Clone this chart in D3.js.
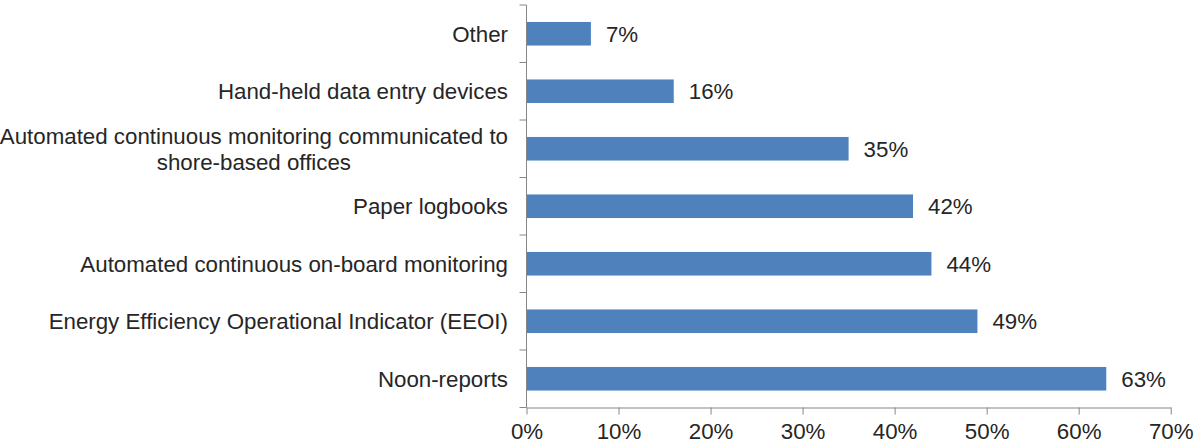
<!DOCTYPE html>
<html>
<head>
<meta charset="utf-8">
<script src="https://cdn.jsdelivr.net/npm/d3@7"></script>
<style>
  html, body { margin: 0; padding: 0; background: #ffffff; }
  svg text { font-family: "Liberation Sans", Arial, sans-serif; fill: #262626; }
</style>
</head>
<body>
<svg id="chart" width="1197" height="445"></svg>
<script>
// Methods used to collect ship performance data, share of respondents
const categories = [
  "Other",
  "Hand-held data entry devices",
  "Automated continuous monitoring communicated to shore-based offices",
  "Paper logbooks",
  "Automated continuous on-board monitoring",
  "Energy Efficiency Operational Indicator (EEOI)",
  "Noon-reports"
];
const shares = [0.07, 0.16, 0.35, 0.42, 0.44, 0.49, 0.63];
const tickValues = [0, 0.1, 0.2, 0.3, 0.4, 0.5, 0.6, 0.7];

const svg = d3.select("#chart");
const plot = { left: 526.5, right: 1170.7, top: 5, bottom: 407.5 };
const axisColor = "#868686";
const barColor = "#4f81bd";
const fontSize = 22.3;

const x = d3.scaleLinear().domain([0, 0.7]).range([plot.left, plot.right]);
const y = d3.scaleBand()
  .domain(categories)
  .range([plot.top, plot.bottom])
  .paddingInner(0.59)
  .paddingOuter(0.295);

const pct = d3.format(".0%");

// Bars
svg.append("g").selectAll("rect")
  .data(categories)
  .join("rect")
  .attr("x", x(0))
  .attr("y", d => y(d))
  .attr("width", (d, i) => x(shares[i]) - x(0))
  .attr("height", y.bandwidth())
  .attr("fill", barColor);

// Value labels
svg.append("g").selectAll("text")
  .data(categories)
  .join("text")
  .attr("x", (d, i) => x(shares[i]) + 15)
  .attr("y", d => y(d) + y.bandwidth() / 2)
  .attr("dy", "0.35em")
  .style("font-size", fontSize + "px")
  .text((d, i) => pct(shares[i]));

// Bottom axis
const xAxis = d3.axisBottom(x)
  .tickValues(tickValues)
  .tickFormat(pct)
  .tickSizeInner(7)
  .tickSizeOuter(0)
  .tickPadding(9);
const gx = svg.append("g")
  .attr("transform", `translate(0,${plot.bottom})`)
  .call(xAxis);
gx.select(".domain").attr("stroke", axisColor);
gx.selectAll(".tick line").attr("stroke", axisColor);
gx.selectAll(".tick text")
  .attr("fill", "#262626")
  .style("font-size", fontSize + "px")
  .style("font-family", "'Liberation Sans', Arial, sans-serif");

// Left axis: spine with ticks at category boundaries
const gy = svg.append("g");
gy.append("line")
  .attr("x1", plot.left).attr("x2", plot.left)
  .attr("y1", plot.top).attr("y2", plot.bottom)
  .attr("stroke", axisColor);
const bounds = d3.range(categories.length + 1).map(i => plot.top + i * y.step());
gy.selectAll("line.tick")
  .data(bounds)
  .join("line")
  .attr("class", "tick")
  .attr("x1", plot.left - 7).attr("x2", plot.left)
  .attr("y1", d => d).attr("y2", d => d)
  .attr("stroke", axisColor);

// Category labels: wrapped to fit left of the axis; wrapped lines are
// centred on each other and the block is right-aligned to the axis
const labelRight = plot.left - 18.5;
const maxLabelWidth = 515;
const lineHeight = 26;
const labels = gy.selectAll("text.cat")
  .data(categories)
  .join("text")
  .attr("class", "cat")
  .attr("text-anchor", "middle")
  .style("font-size", fontSize + "px");

labels.each(function(d) {
  const t = d3.select(this);
  const words = d.split(" ");
  const lines = [];
  let current = [];
  const probe = t.append("tspan");
  const measure = s => { probe.text(s); return probe.node().getComputedTextLength(); };
  words.forEach(w => {
    const trial = current.concat(w).join(" ");
    if (measure(trial) > maxLabelWidth && current.length) {
      lines.push(current.join(" "));
      current = [w];
    } else {
      current.push(w);
    }
  });
  lines.push(current.join(" "));
  const blockWidth = d3.max(lines, measure);
  probe.remove();
  const cx = labelRight - blockWidth / 2;
  const cy = y(d) + y.bandwidth() / 2;
  const startY = cy - (lines.length - 1) * lineHeight / 2;
  lines.forEach((line, i) => {
    t.append("tspan")
      .attr("x", cx)
      .attr("y", startY + i * lineHeight)
      .attr("dy", "0.35em")
      .text(line);
  });
});
</script>
</body>
</html>
